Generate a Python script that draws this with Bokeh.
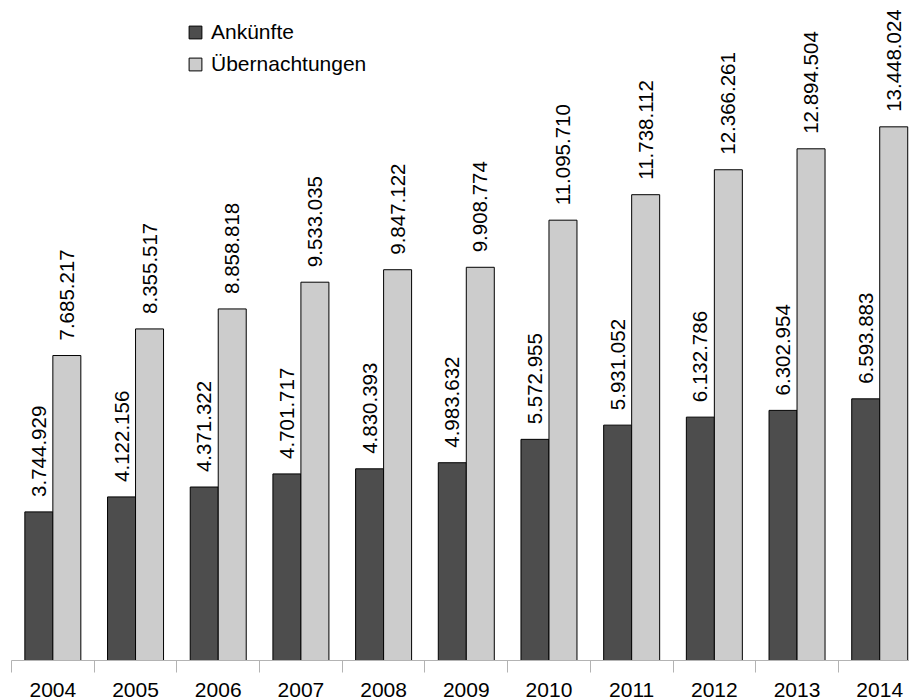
import numpy as np
from bokeh.plotting import figure
from bokeh.models import ColumnDataSource, FixedTicker, Range1d, Legend, LegendItem
from bokeh.core.properties import value
from bokeh.embed import file_html
from bokeh.resources import INLINE

years = ["2004", "2005", "2006", "2007", "2008", "2009", "2010", "2011", "2012", "2013", "2014"]
ankuenfte = [3744929, 4122156, 4371322, 4701717, 4830393, 4983632, 5572955, 5931052, 6132786, 6302954, 6593883]
uebernachtungen = [7685217, 8355517, 8858818, 9533035, 9847122, 9908774, 11095710, 11738112, 12366261, 12894504, 13448024]


def fmt(v):
    return f"{v:,}".replace(",", ".")


FONT = "Liberation Sans"
idx = list(range(len(years)))
bw = 0.3386

src_a = ColumnDataSource(dict(x=[i - bw / 2 for i in idx], top=ankuenfte, label=[fmt(v) for v in ankuenfte]))
src_u = ColumnDataSource(dict(x=[i + bw / 2 for i in idx], top=uebernachtungen, label=[fmt(v) for v in uebernachtungen]))

p = figure(frame_width=898, frame_height=652, output_backend="svg", toolbar_location=None,
           x_range=Range1d(-0.5, 10.36), y_range=Range1d(0, 16.43e6),
           min_border_left=11, min_border_right=0, min_border_top=8, min_border_bottom=0)
p.outline_line_color = None
p.grid.visible = False
p.yaxis.visible = False
p.background_fill_color = "white"
p.border_fill_color = "white"

r1 = p.vbar(x="x", top="top", bottom=0, width=bw, source=src_a,
            fill_color="#4d4d4d", line_color="black", line_width=1)
r2 = p.vbar(x="x", top="top", bottom=0, width=bw, source=src_u,
            fill_color="#cccccc", line_color="black", line_width=1)

for src in (src_a, src_u):
    p.text(x="x", y="top", text="label", source=src, angle=np.pi / 2,
           text_align="left", text_baseline="middle", y_offset=-15,
           text_font=value(FONT), text_font_size="20.5px", text_color="black")

ax = p.xaxis[0]
ax.ticker = FixedTicker(ticks=idx, minor_ticks=[i - 0.5 for i in idx])
ax.major_label_overrides = {i: y for i, y in zip(idx, years)}
ax.major_tick_out = 0
ax.major_tick_in = 0
ax.minor_tick_out = 12
ax.minor_tick_in = 0
ax.minor_tick_line_color = "#b3b3b3"
ax.axis_line_color = "#b3b3b3"
ax.major_label_text_font = FONT
ax.major_label_text_font_size = "21px"
ax.major_label_text_color = "black"
ax.major_label_standoff = 10

legend = Legend(items=[LegendItem(label="Ankünfte", renderers=[r1]),
                       LegendItem(label="Übernachtungen", renderers=[r2])],
                location=(176, 584), orientation="vertical",
                glyph_width=16, glyph_height=16, label_height=20, spacing=8,
                label_standoff=8, padding=0, margin=0,
                label_text_font=FONT, label_text_font_size="21px", label_text_color="black",
                background_fill_alpha=0, border_line_alpha=0)
p.add_layout(legend)

open("out.html", "w").write(file_html(p, INLINE))
